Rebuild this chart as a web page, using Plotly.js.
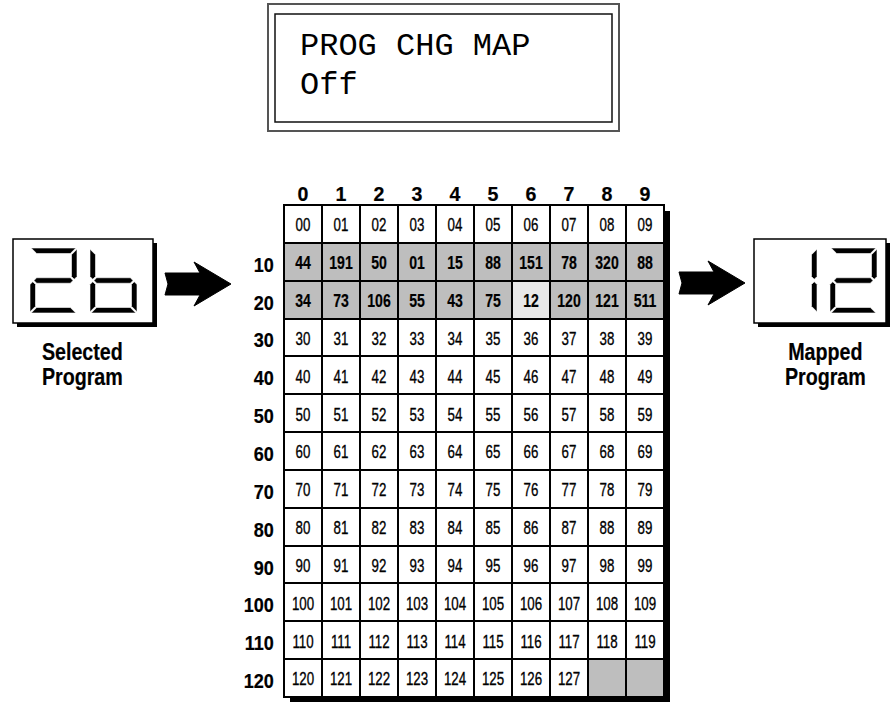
<!DOCTYPE html>
<html>
<head>
<meta charset="utf-8">
<script src="https://cdn.plot.ly/plotly-3.0.1.min.js"></script>
<style>html,body{margin:0;padding:0;background:#fff;}#chart{width:890px;height:702px;}</style>
</head>
<body>
<div id="chart"></div>
<script>
// ---------------- data ----------------
const lcdLine1 = 'PROG CHG MAP';
const lcdLine2 = 'Off';
const colLabels = ['0','1','2','3','4','5','6','7','8','9'];
const rowLabels = ['','10','20','30','40','50','60','70','80','90','100','110','120'];
const row00  = ['00','01','02','03','04','05','06','07','08','09'];
const row10  = ['44','191','50','01','15','88','151','78','320','88'];
const row20  = ['34','73','106','55','43','75','12','120','121','511'];
const row30  = ['30','31','32','33','34','35','36','37','38','39'];
const row40  = ['40','41','42','43','44','45','46','47','48','49'];
const row50  = ['50','51','52','53','54','55','56','57','58','59'];
const row60  = ['60','61','62','63','64','65','66','67','68','69'];
const row70  = ['70','71','72','73','74','75','76','77','78','79'];
const row80  = ['80','81','82','83','84','85','86','87','88','89'];
const row90  = ['90','91','92','93','94','95','96','97','98','99'];
const row100 = ['100','101','102','103','104','105','106','107','108','109'];
const row110 = ['110','111','112','113','114','115','116','117','118','119'];
const row120 = ['120','121','122','123','124','125','126','127','',''];
const programRows = [row00,row10,row20,row30,row40,row50,row60,row70,row80,row90,row100,row110,row120];
const remappedRows = [1, 2];          // rows whose programs are remapped (shaded)
const selectedProgram = 26;           // incoming program number
const selectedLabel = ['Selected', 'Program'];
const mappedLabel = ['Mapped', 'Program'];

// ---------------- helpers ----------------
const W = 890, H = 702;
const px = x => x / W;
const py = y => 1 - y / H;
const SANS = '"Liberation Sans", Arial, sans-serif';
const MONO = '"Liberation Mono", "DejaVu Sans Mono", monospace';
const TEXT_DROP = 0.07;   // small downward nudge of labels inside their row (row units)

const selRow = Math.floor(selectedProgram / 10), selCol = selectedProgram % 10;
const mappedProgram = programRows[selRow][selCol];

// heatmap z: 0 white, 1 shaded, 2 selected
const z = programRows.map((row, r) => row.map((v, c) => {
  if (r === selRow && c === selCol) return 2;
  if (remappedRows.includes(r) || v === '') return 1;
  return 0;
}));
const xs = [], ys = [], ts = [];
programRows.forEach((row, r) => row.forEach((v, c) => {
  xs.push(c); ys.push(r + TEXT_DROP);
  ts.push(remappedRows.includes(r) ? '<b>' + v + '</b>' : v);
}));

// seven-segment display shapes
const SEG = {'0':'abcdef','1':'bc','2':'abged','3':'abgcd','4':'fgbc','5':'afgcd','6':'fgedc','7':'abc','8':'abcdefg','9':'abcdfg'};
function segPaths(ch, X0, Y0, w, h, t) {
  const g = 1.2, ym = Y0 + h / 2, X1 = X0 + w, Y1 = Y0 + h;
  const polys = {
    a: [[X0+g,Y0],[X1-g,Y0],[X1-t-g,Y0+t],[X0+t+g,Y0+t]],
    d: [[X0+g,Y1],[X1-g,Y1],[X1-t-g,Y1-t],[X0+t+g,Y1-t]],
    g: [[X0+g+t/2,ym],[X0+t+g,ym-t/2],[X1-t-g,ym-t/2],[X1-g-t/2,ym],[X1-t-g,ym+t/2],[X0+t+g,ym+t/2]],
    f: [[X0,Y0+g],[X0+t,Y0+t+g],[X0+t,ym-t/2-g],[X0+t/2,ym-g],[X0,ym-t/2-g]],
    b: [[X1,Y0+g],[X1-t,Y0+t+g],[X1-t,ym-t/2-g],[X1-t/2,ym-g],[X1,ym-t/2-g]],
    e: [[X0,Y1-g],[X0+t,Y1-t-g],[X0+t,ym+t/2+g],[X0+t/2,ym+g],[X0,ym+t/2+g]],
    c: [[X1,Y1-g],[X1-t,Y1-t-g],[X1-t,ym+t/2+g],[X1-t/2,ym+g],[X1,ym+t/2+g]]
  };
  return (SEG[ch] || '').split('').map(s => ({
    type: 'path', xref: 'paper', yref: 'paper',
    path: 'M' + polys[s].map(p => px(p[0]).toFixed(5) + ',' + py(p[1]).toFixed(5)).join('L') + 'Z',
    fillcolor: '#000', line: {color: '#fff', width: 0.6}
  }));
}
function rect(x0, y0, x1, y1, opts) {
  return Object.assign({type: 'rect', xref: 'paper', yref: 'paper',
    x0: px(x0), x1: px(x1), y0: py(y1), y1: py(y0)}, opts);
}
function arrow(x0, yc) {
  const pts = [[x0,yc-11],[x0+35,yc-11],[x0+29,yc-22],[x0+66,yc],[x0+29,yc+22],[x0+35,yc+11],[x0,yc+11],[x0+3,yc]];
  return {type: 'path', xref: 'paper', yref: 'paper', fillcolor: '#000', line: {color: '#000', width: 1},
    path: 'M' + pts.map(p => px(p[0]).toFixed(5) + ',' + py(p[1]).toFixed(5)).join('L') + 'Z'};
}
function display(x0, y0, x1, y1, text, digitX) {
  const out = [];
  out.push(rect(x0 + 4, y0 + 4, x1 + 4, y1 + 4, {fillcolor: '#000', line: {width: 0}}));
  out.push(rect(x0, y0, x1, y1, {fillcolor: '#fff', line: {color: '#000', width: 1.5}}));
  text.split('').forEach((ch, i) => {
    out.push(...segPaths(ch, digitX + i * 60, y0 + 9, 47, 65, 5.5));
  });
  return out;
}

// grid geometry (pixels)
const GX0 = 284, GX1 = 664, GY0 = 205, GY1 = 697;

const shapes = [
  rect(268, 4, 619, 131, {line: {color: '#555', width: 2}}),
  rect(275, 14, 612, 122, {line: {color: '#111', width: 1.5}}),
  Object.assign(rect(GX0 + 6, GY0 + 6, GX1 + 6, GY1 + 6, {fillcolor: '#000', line: {width: 0}}), {layer: 'below'}),
  rect(GX0, GY0, GX1, GY1, {line: {color: '#000', width: 2}}),
  arrow(165, 284),
  arrow(679, 283),
  ...display(13, 239, 153, 323, String(selectedProgram), 30),
  ...display(754, 239, 886, 323, String(mappedProgram), 770)
];

function label(text, x, yBase) {
  return {xref: 'paper', yref: 'paper', x: px(x), y: py(yBase), xanchor: 'center', yanchor: 'bottom', showarrow: false,
    text: '<b>' + text + '</b>', font: {family: SANS, size: 24, color: '#000'}, borderpad: 0};
}
const annotations = [
  {xref: 'paper', yref: 'paper', x: px(298), y: py(46), xanchor: 'left', yanchor: 'middle', showarrow: false,
   text: lcdLine1, font: {family: MONO, size: 32, color: '#000'}},
  {xref: 'paper', yref: 'paper', x: px(298), y: py(86), xanchor: 'left', yanchor: 'middle', showarrow: false,
   text: lcdLine2, font: {family: MONO, size: 32, color: '#000'}},
  label(selectedLabel[0], 82, 366), label(selectedLabel[1], 82, 391),
  label(mappedLabel[0], 825, 366), label(mappedLabel[1], 825, 391)
];

const traces = [
  {type: 'heatmap', x: colLabels.map((_, i) => i), y: rowLabels.map((_, i) => i), z: z,
   zmin: 0, zmax: 2, showscale: false, xgap: 2, ygap: 2, hoverinfo: 'skip',
   colorscale: [[0, '#ffffff'], [0.5, '#bebebe'], [1, '#e8e8e8']]},
  {type: 'scatter', mode: 'text', x: xs, y: ys, text: ts, hoverinfo: 'skip',
   textfont: {family: SANS, size: 19, color: '#000'}, textposition: 'middle center'}
];

const layout = {
  width: W, height: H, margin: {l: 0, r: 0, t: 0, b: 0},
  paper_bgcolor: '#fff', plot_bgcolor: '#000', showlegend: false,
  xaxis: {domain: [px(GX0), px(GX1)], range: [-0.5, 9.5], side: 'top', tickmode: 'array',
    tickvals: colLabels.map((_, i) => i), ticktext: colLabels.map(s => '<b>' + s + '</b>'),
    showgrid: false, zeroline: false, showline: false, ticks: '', ticklabelstandoff: -1,
    tickfont: {family: SANS, size: 20, color: '#000'}, fixedrange: true},
  yaxis: {domain: [py(GY1), py(GY0)], range: [12.5, -0.5], tickmode: 'array',
    tickvals: rowLabels.map((_, i) => i + TEXT_DROP), ticktext: rowLabels.map(s => s ? '<b>' + s + '</b>' : ''),
    showgrid: false, zeroline: false, showline: false, ticks: 'outside', ticklen: 5, tickcolor: 'rgba(0,0,0,0)',
    tickfont: {family: SANS, size: 21, color: '#000'}, fixedrange: true},
  shapes: shapes,
  annotations: annotations
};

// condense glyphs horizontally (the original uses a condensed face)
function squeeze(nodes, f, stroke) {
  nodes.forEach(t => {
    const L = t.getComputedTextLength();
    if (L > 0) {
      t.setAttribute('textLength', (L * f).toFixed(2));
      t.setAttribute('lengthAdjust', 'spacingAndGlyphs');
      if (stroke) { t.style.stroke = '#000'; t.style.strokeWidth = stroke + 'px'; }
    }
  });
}

Plotly.newPlot('chart', traces, layout, {displayModeBar: false, staticPlot: true}).then(gd => {
  const cells = Array.from(gd.querySelectorAll('.textpoint text'));
  squeeze(cells.filter(t => !t.querySelector('tspan')), 0.70, 0.35);
  squeeze(cells.filter(t => t.querySelector('tspan')), 0.74, 0.2);
  squeeze(gd.querySelectorAll('.xtick text'), 0.98, 0.2);
  squeeze(gd.querySelectorAll('.ytick text'), 0.86, 0.2);
  const ann = gd.querySelectorAll('.annotation-text');
  squeeze(Array.from(ann).slice(2), 0.82, 0.2);
});
</script>
</body>
</html>
